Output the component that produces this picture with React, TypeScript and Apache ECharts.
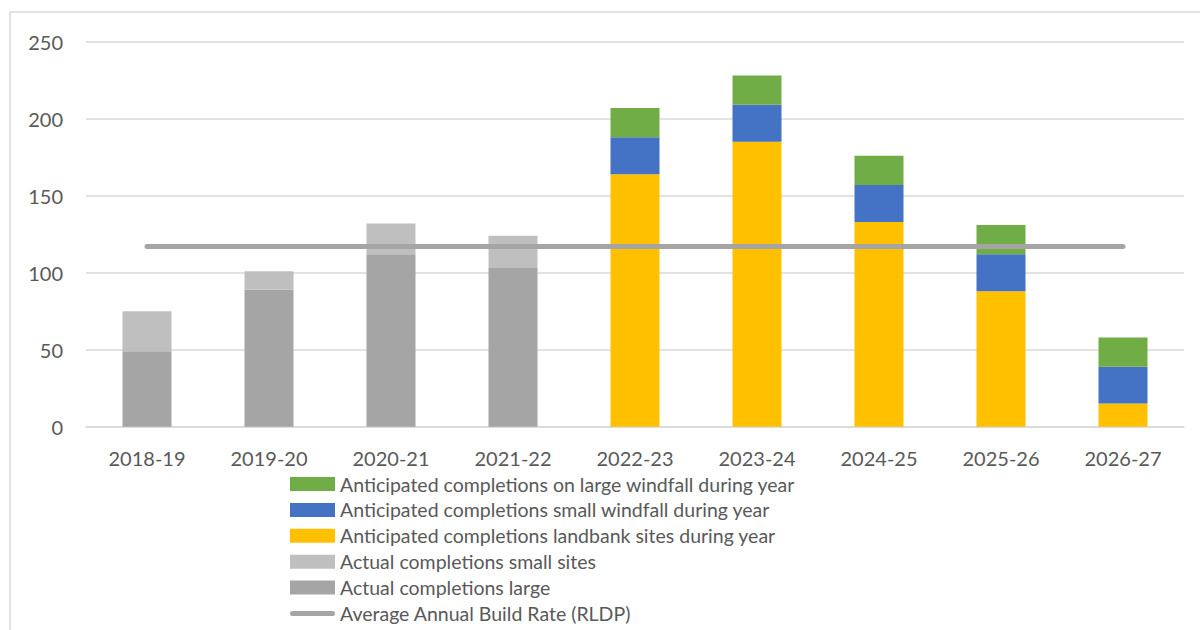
import React, { useEffect, useRef } from "react";
import * as echarts from "echarts";

const categories = ["2018-19", "2019-20", "2020-21", "2021-22", "2022-23", "2023-24", "2024-25", "2025-26", "2026-27"];
const actualLarge = [49, 89, 112, 103, null, null, null, null, null];
const actualSmall = [26, 12, 20, 21, null, null, null, null, null];
const landbank = [null, null, null, null, 164, 185, 133, 88, 15];
const smallWindfall = [null, null, null, null, 24, 24, 24, 24, 24];
const largeWindfall = [null, null, null, null, 19, 19, 19, 19, 19];
const buildRate = [117, 117, 117, 117, 117, 117, 117, 117, 117];
const yTicks = { min: 0, max: 250, interval: 50 };

const names = {
  largeWindfall: "Anticipated completions on large windfall during year",
  smallWindfall: "Anticipated completions small windfall during year",
  landbank: "Anticipated completions landbank sites during year",
  actualSmall: "Actual completions small sites",
  actualLarge: "Actual completions large",
  rate: "Average Annual Build Rate (RLDP)",
};

const FONT = "Lato";
const TEXT = "#595959";
const LINE_ICON = "path://M2.5,0 L42.5,0 A2.5,2.5 0 0 1 42.5,5 L2.5,5 A2.5,2.5 0 0 1 2.5,0 Z";

export default function App() {
  const ref = useRef<HTMLDivElement>(null);
  useEffect(() => {
    if (!ref.current) return;
    const chart = echarts.init(ref.current, undefined, { renderer: "svg" });
    const bar = (name: string, data: (number | null)[], stack: string, color: string) => ({
      name,
      type: "bar",
      stack,
      data,
      barWidth: 49,
      barGap: "-100%",
      itemStyle: { color },
    });
    chart.setOption({
      animation: false,
      backgroundColor: "#ffffff",
      textStyle: { fontFamily: FONT },
      grid: { left: 86, right: 16, top: 41.7, bottom: 203.3, containLabel: false },
      graphic: [
        { type: "line", shape: { x1: 10, y1: 12, x2: 10, y2: 630 }, style: { stroke: "#d9d9d9", lineWidth: 1.5 } },
        { type: "line", shape: { x1: 10, y1: 12, x2: 1200, y2: 12 }, style: { stroke: "#d9d9d9", lineWidth: 1.5 } },
      ],
      xAxis: {
        type: "category",
        data: categories,
        axisTick: { show: false },
        axisLine: { lineStyle: { color: "#d9d9d9", width: 1.5 } },
        axisLabel: { color: TEXT, fontSize: 20, fontFamily: FONT, margin: 21 },
      },
      yAxis: {
        type: "value",
        min: yTicks.min,
        max: yTicks.max,
        interval: yTicks.interval,
        axisLine: { show: false },
        axisTick: { show: false },
        splitLine: { lineStyle: { color: "#d9d9d9", width: 1.5 } },
        axisLabel: { color: TEXT, fontSize: 20, fontFamily: FONT, margin: 23 },
      },
      legend: {
        orient: "vertical",
        left: 290,
        top: 474,
        padding: 0,
        height: 160,
        itemWidth: 45,
        itemHeight: 14,
        itemGap: 5.9,
        textStyle: { color: TEXT, fontSize: 19.5, fontFamily: FONT, lineHeight: 20 },
        data: [
          { name: names.largeWindfall, icon: "rect" },
          { name: names.smallWindfall, icon: "rect" },
          { name: names.landbank, icon: "rect" },
          { name: names.actualSmall, icon: "rect" },
          { name: names.actualLarge, icon: "rect" },
          { name: names.rate, icon: LINE_ICON, itemStyle: { color: "#a5a5a5" } },
        ],
      },
      series: [
        bar(names.actualLarge, actualLarge, "actual", "#a5a5a5"),
        bar(names.actualSmall, actualSmall, "actual", "#bfbfbf"),
        bar(names.landbank, landbank, "anticipated", "#ffc000"),
        bar(names.smallWindfall, smallWindfall, "anticipated", "#4472c4"),
        bar(names.largeWindfall, largeWindfall, "anticipated", "#70ad47"),
        {
          name: names.rate,
          type: "line",
          data: buildRate,
          symbol: "none",
          lineStyle: { color: "#a5a5a5", width: 5, cap: "round" },
          itemStyle: { color: "#a5a5a5" },
          z: 5,
        },
      ],
    });
    return () => chart.dispose();
  }, []);
  return <div ref={ref} style={{ position: "fixed", left: 0, top: 0, width: 1200, height: 630 }} />;
}
